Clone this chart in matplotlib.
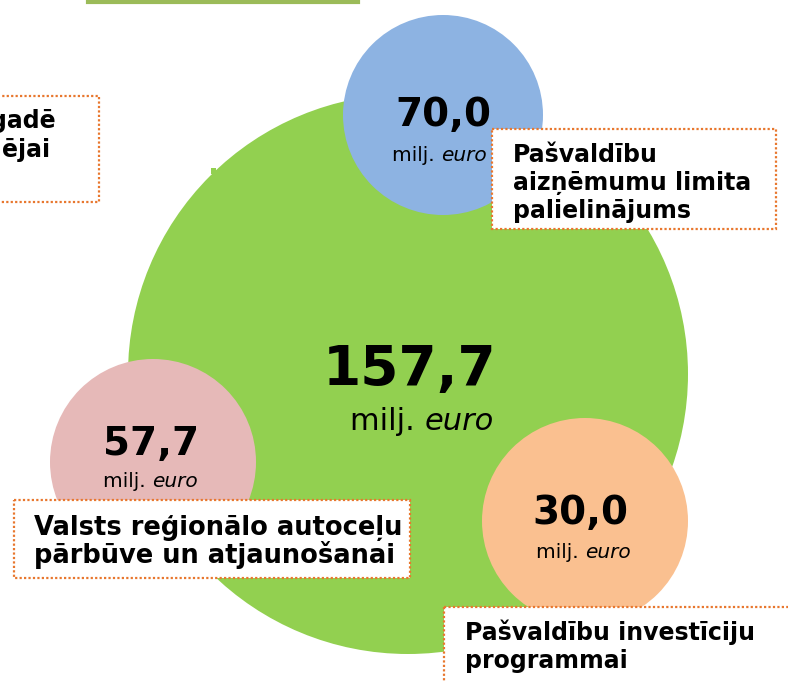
import matplotlib.pyplot as plt
from matplotlib.patches import Circle, Rectangle

# data
values = [157.7, 70.0, 57.7, 30.0]
unit = "milj."
unit_it = "euro"
labels = [[],
          ["Pašvaldību", "aizņēmumu limita", "palielinājums"],
          ["Valsts reģionālo autoceļu", "pārbūve un atjaunošanai"],
          ["Pašvaldību investīciju", "programmai"]]
cut_label = ["gadē", "ējai"]

colors = ["#92D050", "#8DB3E2", "#E6B9B8", "#FAC090"]
border = "#E8772E"

# layout in pixel coordinates (y down)
circles = [(408, 374, 280), (443, 115, 100), (153, 462, 103), (585, 521, 103)]
num_pos = [(410, 385, 39.5), (443, 126, 28), (151, 455, 28), (580, 524, 28)]
unit_pos = [(425, 430, 22), (441, 161, 14.5), (152, 487, 14.5), (585, 558, 14.5)]
boxes = [None, (492, 129, 284, 100), (14, 500, 396, 78), (444, 607, 360, 90)]
text_pos = [None, (513, 162, 17), (34, 535, 18.5), (465, 640, 17)]
line_gap = 28

fig = plt.figure(figsize=(7.88, 6.81), dpi=100)
ax = fig.add_axes([0, 0, 1, 1])
ax.set_xlim(0, 788)
ax.set_ylim(681, 0)
ax.set_aspect('equal')
ax.axis('off')

# top green box edge (cut off)
ax.add_patch(Rectangle((88, -20), 270, 21.5, fill=False, edgecolor="#9BBB59", lw=3, zorder=1))

# left box (cut off)
ax.add_patch(Rectangle((-20, 96), 119, 106, facecolor='white', edgecolor=border,
                       lw=1.6, linestyle=(0, (1, 1)), zorder=1))
ax.text(56, 128, cut_label[0], ha='right', va='baseline', fontsize=17, fontweight='bold')
ax.text(50, 157, cut_label[1], ha='right', va='baseline', fontsize=17, fontweight='bold')

for i, v in enumerate(values):
    cx, cy, r = circles[i]
    z = 2 + i * 3
    ax.add_patch(Circle((cx, cy), r, facecolor=colors[i], edgecolor='none', zorder=z))
    nx, ny, fs = num_pos[i]
    ax.text(nx, ny, f"{v:.1f}".replace('.', ','), ha='center', va='baseline',
            fontsize=fs, fontweight='bold', zorder=z + 1)
    ux, uy, ufs = unit_pos[i]
    ax.text(ux, uy, unit + " ", ha='right', va='baseline', fontsize=ufs, zorder=z + 1)
    ax.text(ux, uy, unit_it, ha='left', va='baseline', fontsize=ufs, style='italic', zorder=z + 1)
    if boxes[i] is not None:
        bx, by, bw, bh = boxes[i]
        ax.add_patch(Rectangle((bx, by), bw, bh, facecolor='white', edgecolor=border,
                               lw=1.6, linestyle=(0, (1, 1)), zorder=z + 1))
        tx, ty, tfs = text_pos[i]
        for k, line in enumerate(labels[i]):
            ax.text(tx, ty + k * line_gap, line, ha='left', va='baseline', fontsize=tfs,
                    fontweight='bold', zorder=z + 2)

# small notch on the big circle
ax.add_patch(Rectangle((211, 168), 5, 6, facecolor=colors[0], edgecolor='none', zorder=2))

fig.savefig("out.png", dpi=100)
